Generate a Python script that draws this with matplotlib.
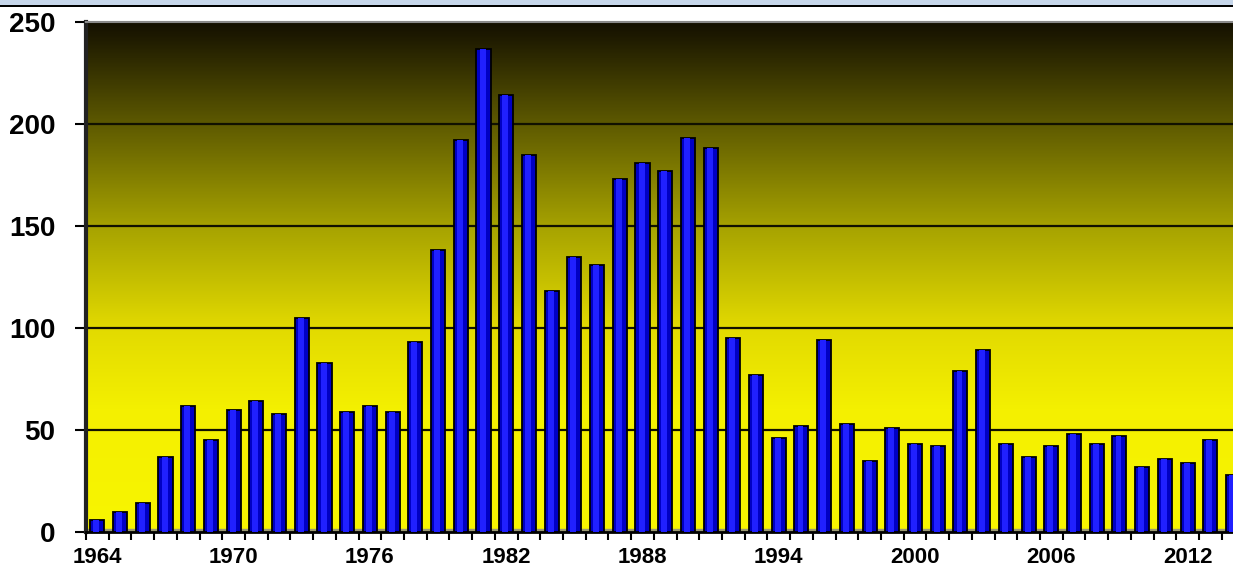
import numpy as np
import matplotlib
matplotlib.use("Agg")
import matplotlib.pyplot as plt
from matplotlib.colors import LinearSegmentedColormap
from matplotlib.patches import Rectangle

years = list(range(1964, 2015))
counts = [6, 10, 14, 37, 62, 45, 60, 64, 58, 105,
          83, 59, 62, 59, 93, 138, 192, 237, 214, 185,
          118, 135, 131, 173, 181, 177, 193, 188, 95, 77,
          46, 52, 94, 53, 35, 51, 43, 42, 79, 89,
          43, 37, 42, 48, 43, 47, 32, 36, 34, 45,
          28]
label_years = [1964, 1970, 1976, 1982, 1988, 1994, 2000, 2006, 2012]
yticks = [0, 50, 100, 150, 200, 250]

plt.rcParams['font.family'] = ['Liberation Sans', 'DejaVu Sans']

fig = plt.figure(figsize=(12.33, 5.73), dpi=100)
fig.patch.set_facecolor('white')

# header strip
fig.add_artist(Rectangle((0, 1 - 4.5 / 573), 1, 4.5 / 573, transform=fig.transFigure,
                         facecolor='#c6d6ea', edgecolor='none'))
fig.add_artist(Rectangle((0, 1 - 7 / 573), 1, 2.5 / 573, transform=fig.transFigure,
                         facecolor='black', edgecolor='none'))

ax = fig.add_axes([86 / 1233, (573 - 532) / 573, (1233 - 86) / 1233, 510 / 573])

x = np.arange(len(years))
xmin, xmax = -0.5, 50.0

# background gradient
cmap = LinearSegmentedColormap.from_list('bg', [
    (0.0, '#f8f500'), (0.24, '#f4f000'), (0.40, '#e2da00'),
    (0.60, '#a6a200'), (0.80, '#5e5a00'), (1.0, '#141000')])
grad = np.linspace(0, 1, 256).reshape(-1, 1)
ax.imshow(grad, cmap=cmap, origin='lower', aspect='auto',
          extent=[xmin, xmax, 0, 250], zorder=0)

for v in yticks[1:-1]:
    ax.axhline(v, color='#111100', lw=1.6, zorder=1)
ax.axhspan(0, 1.6, color='#9c9a70', zorder=1)

ax.bar(x, counts, width=0.62, color='#0000c4', edgecolor='black', linewidth=1.3, zorder=3)
ax.bar(x - 0.04, counts, width=0.26, color='#2020ff', edgecolor='none', zorder=4)

ax.set_xlim(xmin, xmax)
ax.set_ylim(0, 250)

ax.set_xticks([y - 1964 for y in label_years])
ax.set_xticklabels([str(y) for y in label_years], fontsize=16, fontweight='bold')
ax.set_xticks(np.arange(xmin, xmax, 1.0), minor=True)
ax.tick_params(axis='x', which='major', length=0, pad=11)
ax.tick_params(axis='x', which='minor', length=6, width=1.5, color='black')

ax.set_yticks(yticks)
ax.set_yticklabels([str(v) for v in yticks], fontsize=20, fontweight='bold')
ax.tick_params(axis='y', length=8, width=1.5, pad=14)

for s in ['right']:
    ax.spines[s].set_visible(False)
ax.spines['top'].set_color('#8a8a8a')
ax.spines['top'].set_linewidth(1.5)
ax.spines['left'].set_color('#222222')
ax.spines['left'].set_linewidth(3)
ax.spines['bottom'].set_color('black')
ax.spines['bottom'].set_linewidth(2)

fig.savefig('out.png', dpi=100, facecolor='white')
